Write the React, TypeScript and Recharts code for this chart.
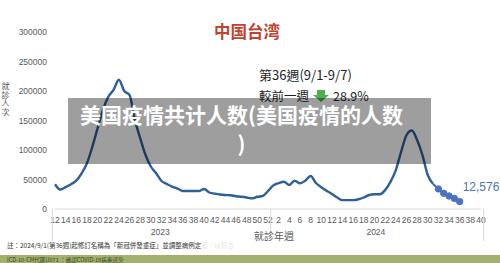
import React from "react";
import { LineChart, Line, XAxis, YAxis, LabelList } from "recharts";

// ---- data ----
const weeks2023 = [12, 13, 14, 15, 16, 17, 18, 19, 20, 21, 22, 23, 24, 25, 26, 27, 28, 29, 30, 31, 32, 33, 34, 35, 36, 37, 38, 39, 40, 41, 42, 43, 44, 45, 46, 47, 48, 49, 50, 51, 52];
const visits2023 = [42000, 33000, 37000, 42000, 48000, 60500, 77500, 105000, 137000, 168000, 190000, 202000, 219000, 200000, 193000, 151000, 120000, 91500, 72000, 60500, 47500, 42500, 38000, 34700, 30500, 30500, 30500, 30500, 34000, 28000, 26000, 24500, 23700, 23200, 21700, 20700, 19500, 18000, 20700, 22000, 30500];
const weeks2024 = [1, 2, 3, 4, 5, 6, 7, 8, 9, 10, 11, 12, 13, 14, 15, 16, 17, 18, 19, 20, 21, 22, 23, 24, 25, 26, 27, 28, 29, 30, 31, 32, 33, 34, 35, 36, 37, 38, 39, 40];
const visits2024: (number | null)[] = [40000, 44000, 46300, 40700, 48000, 43500, 48000, 56000, 44000, 37000, 31000, 25500, 19500, 15000, 15000, 15000, 16500, 19500, 23700, 25000, 25000, 32000, 46000, 66000, 97000, 125000, 133000, 117000, 91500, 57600, 42400, 34000, 26600, 22000, 18000, 12576, null, null, null, null];
const recentStartWeek2024 = 31; // markers drawn from the week after this one
const yTicks = [0, 50000, 100000, 150000, 200000, 250000, 300000];

type Row = { key: string; year: number; week: number; total: number | null; recent: number | null };
const data: Row[] = [
  ...weeks2023.map((w, i) => ({ key: `2023-${w}`, year: 2023, week: w, total: visits2023[i], recent: null })),
  ...weeks2024.map((w, i) => ({
    key: `2024-${w}`,
    year: 2024,
    week: w,
    total: w <= recentStartWeek2024 ? visits2024[i] : null,
    recent: w >= recentStartWeek2024 ? visits2024[i] : null,
  })),
];
let lastIdx = 0;
data.forEach((d, i) => { if (d.recent != null) lastIdx = i; });

// ---- layout ----
const W = 500, H = 263;
const M = { top: 32, right: 19, bottom: 0, left: 0 };
const Y_AXIS_W = 55;
const X_AXIS_H = 54;
const plotLeft = M.left + Y_AXIS_W;
const plotRight = W - M.right;
const bw = (plotRight - plotLeft) / data.length;

const numFont = "'Liberation Sans', 'Noto Sans', sans-serif";
const cjkFont = "'Noto Sans CJK TC', 'Noto Sans CJK SC', sans-serif";

function WeekTick(props: any) {
  const { x, y } = props;
  const idx: number = props.index ?? props.payload?.index ?? 0;
  const d = data[idx];
  if (!d) return null;
  const axisY = y - 8;
  const parts: React.ReactNode[] = [];
  if (idx % 2 === 0) {
    parts.push(
      <text key="w" x={x} y={y} dy="0.72em" textAnchor="middle" fontSize={8.5} fill="#595959" fontFamily={numFont}>
        {d.week}
      </text>
    );
  }
  const isFirstOfYear = idx === 0 || data[idx - 1].year !== d.year;
  if (isFirstOfYear) {
    const n = data.filter((r) => r.year === d.year).length;
    const left = x - bw / 2;
    parts.push(<line key="l" x1={left} x2={left} y1={axisY} y2={axisY + 32} stroke="#d9d9d9" strokeWidth={1} />);
    parts.push(
      <text key="y" x={left + (n * bw) / 2} y={axisY + 26} textAnchor="middle" fontSize={8.5} fill="#595959" fontFamily={numFont}>
        {d.year}
      </text>
    );
  }
  if (idx === data.length - 1) {
    const right = x + bw / 2;
    parts.push(<line key="r" x1={right} x2={right} y1={axisY} y2={axisY + 32} stroke="#d9d9d9" strokeWidth={1} />);
  }
  return <g>{parts}</g>;
}

function RecentDot(props: any) {
  const { cx, cy, index, payload } = props;
  if (payload == null || payload.recent == null || payload.week <= recentStartWeek2024 || cx == null) return <g key={`d${index}`} />;
  return <circle key={`d${index}`} cx={cx} cy={cy} r={3.2} fill="#4a72c0" stroke="#4a72c0" />;
}

function LatestLabel(props: any) {
  const { x, y, index, value } = props;
  if (index !== lastIdx || value == null) return null;
  return (
    <text x={x + 3} y={y - 11} fontSize={12} fill="#4f74b6" fontFamily={numFont}>
      {Number(value).toLocaleString("en-US")}
    </text>
  );
}

export default function App() {
  return (
    <div style={{ position: "absolute", left: 0, top: 0, width: W, height: H, background: "#fff", overflow: "hidden" }}>
      <LineChart width={W} height={H} data={data} margin={M}>
        <XAxis
          dataKey="key"
          interval={0}
          height={X_AXIS_H}
          axisLine={{ stroke: "#d9d9d9" }}
          tickLine={false}
          tick={(p: any) => <WeekTick {...p} />}
        />
        <YAxis
          width={Y_AXIS_W}
          domain={[0, 300000]}
          ticks={yTicks}
          axisLine={false}
          tickLine={false}
          tick={{ fontSize: 8.5, fill: "#595959", fontFamily: numFont }}
        />
        <Line type="monotone" dataKey="total" stroke="#2e5e9c" strokeWidth={2.4} dot={false} isAnimationActive={false} />
        <Line type="monotone" dataKey="recent" stroke="#3d67ad" strokeWidth={2} dot={(p: any) => <RecentDot {...p} />} activeDot={false} isAnimationActive={false}>
          <LabelList dataKey="recent" content={(p: any) => <LatestLabel {...p} />} />
        </Line>
      </LineChart>

      {/* title */}
      <div style={{ position: "absolute", left: 214, top: 20, fontFamily: cjkFont, fontWeight: 700, fontSize: 16.5, color: "#bf4330", lineHeight: "22px", whiteSpace: "nowrap" }}>
        中国台湾
      </div>

      {/* annotation */}
      <div style={{ position: "absolute", left: 259, top: 66, fontFamily: cjkFont, fontSize: 13, color: "#1e1e1e", lineHeight: "17px", whiteSpace: "nowrap" }}>
        第36週(9/1-9/7)
      </div>
      <div style={{ position: "absolute", left: 259, top: 88, fontFamily: cjkFont, fontSize: 12.5, color: "#1e1e1e", lineHeight: "16px", whiteSpace: "nowrap", display: "flex", alignItems: "center" }}>
        <span>較前一週</span>
        <svg width={18} height={12} style={{ margin: "0 3px 0 3px" }}>
          <polygon points="5,0 13,0 13,5 17,5 9,12 1,5 5,5" fill="#4caf50" />
        </svg>
        <span>28.9%</span>
      </div>

      {/* y axis title */}
      <div style={{ position: "absolute", left: 1, top: 82, fontFamily: cjkFont, fontSize: 8, color: "#595959", writingMode: "vertical-rl", textOrientation: "upright", lineHeight: "9px", letterSpacing: "0.5px" }}>
        就診人次
      </div>

      {/* x axis title */}
      <div style={{ position: "absolute", left: 254, top: 229, fontFamily: cjkFont, fontSize: 10, color: "#595959", lineHeight: "13px", whiteSpace: "nowrap" }}>
        就診年週
      </div>

      {/* footnote */}
      <div style={{ position: "absolute", left: 7, top: 241, fontFamily: cjkFont, fontSize: 6.5, color: "#333", lineHeight: "9px", whiteSpace: "nowrap" }}>
        註：2024/9/1(第36週)起修訂名稱為「新冠併發重症」並調整病例定<span style={{ color: "#e4e4e4" }}>義，以符合</span>
      </div>
      <div style={{ position: "absolute", left: 0, top: 255, width: W, height: 8, background: "#a2b16b" }} />
      <div style={{ position: "absolute", left: 7, top: 255.5, fontFamily: cjkFont, fontSize: 5.6, color: "#3a3f2a", lineHeight: "8px", whiteSpace: "nowrap" }}>
        ICD-10-CM代碼U071 ：確認COVID-19病毒感染
      </div>

      {/* headline banner */}
      <div style={{ position: "absolute", left: 68, top: 98, width: 363, height: 66, background: "rgba(0,0,0,0.38)", color: "#fff", fontFamily: cjkFont, fontWeight: 700, fontSize: 21, lineHeight: "29px", textAlign: "center", paddingTop: 2, paddingRight: 16, boxSizing: "border-box" }}>
        美国疫情共计人数(美国疫情的人数
        <br />)
      </div>
    </div>
  );
}
